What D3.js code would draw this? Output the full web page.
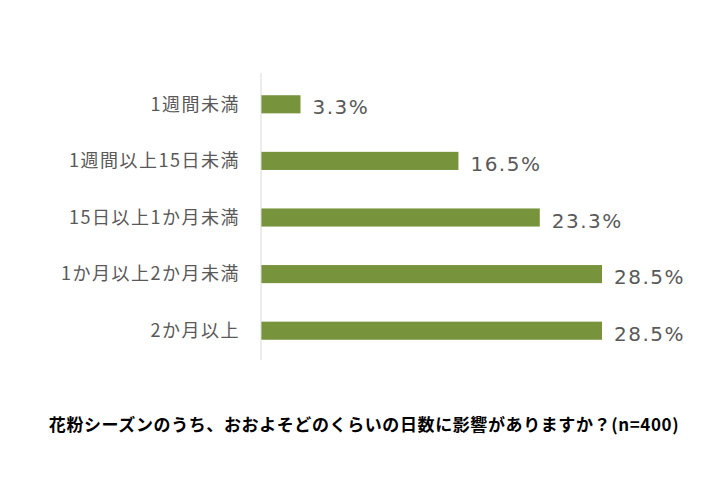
<!DOCTYPE html>
<html><head><meta charset="utf-8">
<script src="https://cdn.jsdelivr.net/npm/d3@7"></script>
<style>body{margin:0;background:#fff}</style>
</head><body>
<script>
const categories = ["1週間未満","1週間以上15日未満","15日以上1か月未満","1か月以上2か月未満","2か月以上"];
const values = [3.3,16.5,23.3,28.5,28.5];
const title = "花粉シーズンのうち、おおよそどのくらいの日数に影響がありますか？(n=400)";

const W=720,H=480;
const svg=d3.select("body").append("svg").attr("width",W).attr("height",H);
const x=d3.scaleLinear().domain([0,28.5]).range([261,602]);
const y=d3.scaleBand().domain(categories).range([76,359]).paddingInner(0.68).paddingOuter(0.34);
const font="'Noto Sans CJK JP','Noto Sans',sans-serif";

svg.selectAll("rect.bar").data(values).join("rect")
  .attr("x",x(0)).attr("y",(d,i)=>y(categories[i]))
  .attr("width",d=>x(d)-x(0)).attr("height",y.bandwidth())
  .attr("fill","#77933C");

svg.append("line").attr("x1",261).attr("x2",261).attr("y1",73).attr("y2",360)
  .attr("stroke","#d9d9d9").attr("stroke-width",1);

svg.selectAll("text.cat").data(categories).join("text")
  .attr("x",240).attr("y",d=>y(d)+y.bandwidth()/2).attr("dy","0.35em")
  .attr("text-anchor","end").attr("font-family",font).attr("font-size",18)
  .attr("letter-spacing",1.5)
  .attr("fill","#595959").text(d=>d);

svg.selectAll("text.val").data(values).join("text")
  .attr("x",d=>x(d)+12).attr("y",(d,i)=>y(categories[i])+y.bandwidth()/2+3).attr("dy","0.35em")
  .attr("font-family","'DejaVu Sans',sans-serif").attr("font-size",20)
  .attr("letter-spacing",1.5)
  .attr("fill","#595959").text(d=>d.toFixed(1)+"%");

svg.append("text").attr("x",364).attr("y",425).attr("dy","0.35em")
  .attr("text-anchor","middle").attr("font-family",font).attr("font-size",17)
  .attr("letter-spacing",0.6)
  .attr("font-weight","bold").attr("fill","#000").text(title);
</script>
</body></html>
